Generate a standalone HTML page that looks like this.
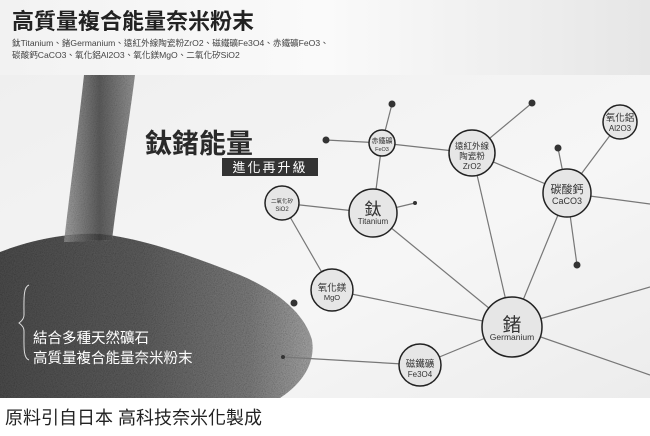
<!DOCTYPE html>
<html><head><meta charset="utf-8"><style>
html,body{margin:0;padding:0;width:650px;height:436px;overflow:hidden;background:#fff}
body{font-family:"Liberation Sans","Noto Sans CJK TC",sans-serif}
</style></head><body>
<svg width="650" height="436" viewBox="0 0 650 436" xmlns="http://www.w3.org/2000/svg" style="display:block">
<defs>
<linearGradient id="hdr" x1="0" y1="0" x2="1" y2="0">
<stop offset="0" stop-color="#f2f2f2"/><stop offset="0.5" stop-color="#fafafa"/><stop offset="1" stop-color="#e6e6e6"/>
</linearGradient>
<linearGradient id="bg" x1="0" y1="0" x2="1" y2="1">
<stop offset="0" stop-color="#efefef"/><stop offset="0.6" stop-color="#f6f6f6"/><stop offset="1" stop-color="#ececec"/>
</linearGradient>
<linearGradient id="pile" x1="0" y1="0" x2="1" y2="0">
<stop offset="0" stop-color="#4e4e4e"/><stop offset="0.45" stop-color="#606060"/><stop offset="0.8" stop-color="#808080"/><stop offset="1" stop-color="#aaa"/>
</linearGradient>
<linearGradient id="stream" x1="0" y1="0" x2="1" y2="0">
<stop offset="0" stop-color="#999"/><stop offset="0.5" stop-color="#444"/><stop offset="1" stop-color="#888"/>
</linearGradient>
<filter id="noise"><feTurbulence type="fractalNoise" baseFrequency="0.9" numOctaves="2" result="n"/><feColorMatrix type="saturate" values="0"/><feComposite in2="SourceGraphic" operator="in"/><feBlend in="SourceGraphic" mode="multiply"/></filter>
</defs>
<rect x="0" y="0" width="650" height="75" fill="url(#hdr)"/>
<rect x="0" y="75" width="650" height="323" fill="url(#bg)"/>
<rect x="0" y="398" width="650" height="38" fill="#fff"/>
<path d="M0,252 C30,240 70,232 100,234 C140,238 190,255 240,275 C280,292 305,315 312,340 C316,365 300,385 280,398 L0,398 Z" fill="url(#pile)" filter="url(#noise)"/>
<path d="M84,75 L135,75 C128,130 118,190 112,240 L64,242 C70,190 78,130 84,75 Z" fill="url(#stream)" filter="url(#noise)" opacity="0.85"/>
<text x="12" y="29" font-size="22" font-weight="bold" fill="#222">高質量複合能量奈米粉末</text>
<text x="12" y="46" font-size="8.6" fill="#444">鈦Titanium、鍺Germanium、遠紅外線陶瓷粉ZrO2、磁鐵礦Fe3O4、赤鐵礦FeO3、</text>
<text x="12" y="58" font-size="8.6" fill="#444">碳酸鈣CaCO3、氧化鋁Al2O3、氧化鎂MgO、二氧化矽SiO2</text>
<text x="145" y="153" font-size="27" font-weight="bold" fill="#2a2a2a">鈦鍺能量</text>
<rect x="222" y="158" width="96" height="18" fill="#333"/>
<text x="270" y="172" font-size="13" fill="#fff" text-anchor="middle" letter-spacing="2">進化再升級</text>
<path d="M29,285 C23,287 24,300 24,315 C24,320 20,322 19,323 C20,324 24,326 24,331 C24,346 23,358 29,360" fill="none" stroke="#ddd" stroke-width="1"/>
<text x="33" y="343" font-size="14.5" fill="#fff">結合多種天然礦石</text>
<text x="33" y="363" font-size="14.5" fill="#fff">高質量複合能量奈米粉末</text>
<g stroke="#777" stroke-width="1.2" fill="none">
<line x1="382" y1="143" x2="392" y2="104"/>
<line x1="382" y1="143" x2="326" y2="140"/>
<line x1="382" y1="143" x2="472" y2="153"/>
<line x1="382" y1="143" x2="373" y2="213"/>
<line x1="472" y1="153" x2="532" y2="103"/>
<line x1="472" y1="153" x2="567" y2="193"/>
<line x1="472" y1="153" x2="512" y2="327"/>
<line x1="567" y1="193" x2="620" y2="122"/>
<line x1="567" y1="193" x2="558" y2="148"/>
<line x1="567" y1="193" x2="577" y2="265"/>
<line x1="567" y1="193" x2="650" y2="204"/>
<line x1="567" y1="193" x2="512" y2="327"/>
<line x1="373" y1="213" x2="415" y2="203"/>
<line x1="373" y1="213" x2="282" y2="203"/>
<line x1="373" y1="213" x2="512" y2="327"/>
<line x1="282" y1="203" x2="332" y2="290"/>
<line x1="332" y1="290" x2="512" y2="327"/>
<line x1="420" y1="365" x2="512" y2="327"/>
<line x1="420" y1="365" x2="283" y2="357"/>
<line x1="512" y1="327" x2="650" y2="287"/>
<line x1="512" y1="327" x2="650" y2="375"/>
</g>
<g fill="#333">
<circle cx="392" cy="104" r="3.5"/><circle cx="326" cy="140" r="3.5"/><circle cx="532" cy="103" r="3.5"/>
<circle cx="558" cy="148" r="3.5"/><circle cx="415" cy="203" r="2"/><circle cx="577" cy="265" r="3.5"/>
<circle cx="294" cy="303" r="3.5"/><circle cx="283" cy="357" r="2"/>
</g>
<g fill="#e6e6e6" stroke="#222" stroke-width="1.5">
<circle cx="382" cy="143" r="13"/><circle cx="472" cy="153" r="23"/><circle cx="620" cy="122" r="17"/>
<circle cx="567" cy="193" r="24"/><circle cx="282" cy="203" r="17"/><circle cx="373" cy="213" r="24"/>
<circle cx="332" cy="290" r="21"/><circle cx="512" cy="327" r="30"/><circle cx="420" cy="365" r="21"/>
</g>
<g fill="#333" text-anchor="middle">
<text x="382" y="143" font-size="7">赤鐵礦</text><text x="382" y="151" font-size="5.5">FeO3</text>
<text x="472" y="149" font-size="8.5">遠紅外線</text><text x="472" y="159" font-size="8.5">陶瓷粉</text><text x="472" y="169" font-size="8">ZrO2</text>
<text x="620" y="121" font-size="9.5">氧化鋁</text><text x="620" y="131" font-size="8">Al2O3</text>
<text x="567" y="193" font-size="11">碳酸鈣</text><text x="567" y="204" font-size="9">CaCO3</text>
<text x="282" y="203" font-size="5.5">二氧化矽</text><text x="282" y="211" font-size="6">SiO2</text>
<text x="373" y="215" font-size="17">鈦</text><text x="373" y="224" font-size="8">Titanium</text>
<text x="332" y="291" font-size="9.5">氧化鎂</text><text x="332" y="300" font-size="7.5">MgO</text>
<text x="512" y="331" font-size="19">鍺</text><text x="512" y="340" font-size="8.5">Germanium</text>
<text x="420" y="367" font-size="9.5">磁鐵礦</text><text x="420" y="377" font-size="8">Fe3O4</text>
</g>
<text x="5" y="424" font-size="18" fill="#222">原料引自日本 高科技奈米化製成</text>
</svg>
</body></html>
